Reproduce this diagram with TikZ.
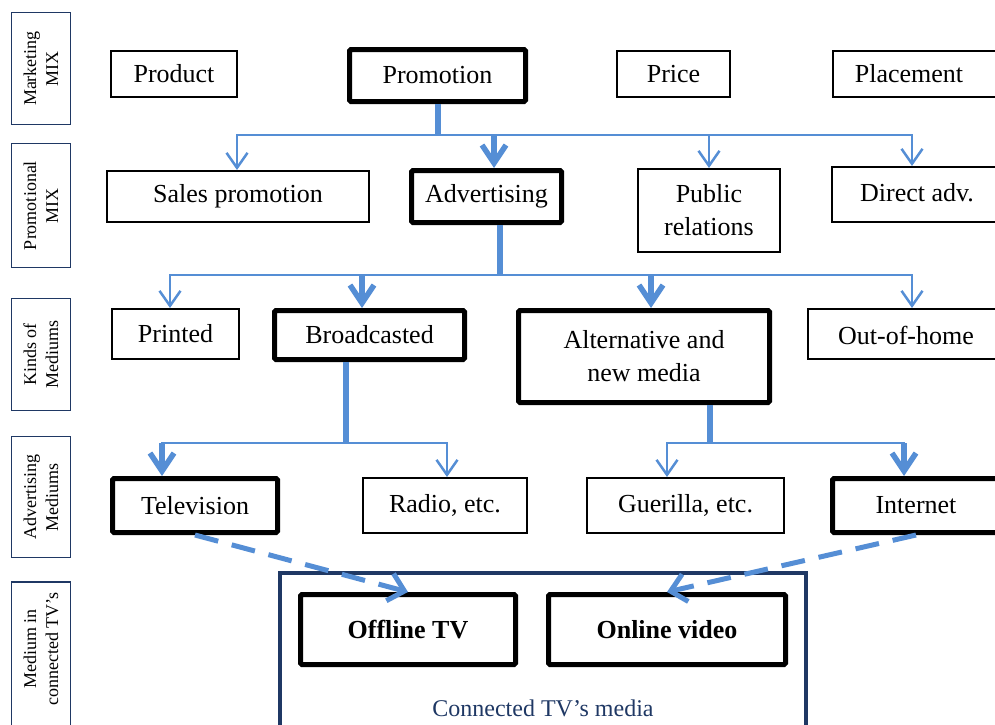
\documentclass[tikz,border=0pt]{standalone}
\usepackage{fontspec}
\setmainfont{Liberation Serif}
\usetikzlibrary{arrows.meta}
\definecolor{flowblue}{RGB}{85,142,213}
\definecolor{navy}{RGB}{31,56,100}

\begin{document}
\begin{tikzpicture}[x=1pt,y=-1pt,
  box/.style={draw=black, line width=2pt, fill=white, inner sep=0pt,
    font=\fontsize{26}{33}\selectfont, align=center},
  keybox/.style={box, line width=5pt, rounded corners=1.5pt},
  sidebox/.style={draw=navy, line width=1.3pt, inner sep=0pt},
  sidetext/.style={rotate=90, align=center, inner sep=0pt,
    font=\fontsize{18}{22}\selectfont},
  plain/.style={inner sep=0pt, font=\fontsize{26}{33}\selectfont, align=center},
  bus/.style={draw=flowblue, line width=2.5pt, line cap=rect},
  stem/.style={draw=flowblue, line width=6pt},
  thinarr/.style={draw=flowblue, line width=2.5pt,
    -{Straight Barb[length=15pt,width=21pt]}},
  thickarr/.style={draw=flowblue, line width=5.5pt,
    -{Straight Barb[length=18pt,width=24pt]}},
  dasharr/.style={draw=flowblue, line width=5pt, dash pattern=on 24pt off 14pt,
    -{Straight Barb[length=15pt,width=28pt]}},
]
\useasboundingbox (0,0) rectangle (995,724);
\clip (0,0) rectangle (995,724);

% ---- level captions on the left ----
\node[sidebox, minimum width=59pt, minimum height=112pt] (lvl1) at (41,68.5) {};
\node[sidetext] (lvl1t) at (lvl1) {Marketing\\MIX};
\node[sidebox, minimum width=59pt, minimum height=124pt] (lvl2) at (41,205.5) {};
\node[sidetext] (lvl2t) at (lvl2) {Promotional\\MIX};
\node[sidebox, minimum width=59pt, minimum height=112pt] (lvl3) at (41,354.5) {};
\node[sidetext] (lvl3t) at (lvl3) {Kinds of\\Mediums};
\node[sidebox, minimum width=59pt, minimum height=121pt] (lvl4) at (41,497) {};
\node[sidetext] (lvl4t) at (lvl4) {Advertising\\Mediums};
\node[sidebox, minimum width=59pt, minimum height=170pt] (lvl5) at (41,667) {};
\node[sidetext] (lvl5t) at (41,649) {Medium in\\connected TV's};

% ---- marketing mix ----
\node[box, minimum width=126pt, minimum height=46pt] (product) at (174,74) {Product};
\node[keybox, minimum width=176pt, minimum height=52pt] (promotion) at (437.5,75.5) {Promotion};
\node[box, minimum width=113pt, minimum height=46pt] (price) at (673.5,74) {Price};
\node[box, minimum width=186pt, minimum height=46pt] (placement) at (926,74) {};
\node[plain] (placementt) at (909,74) {Placement};

% ---- promotional mix ----
\node[box, minimum width=262pt, minimum height=51pt] (sales) at (238,196.5) {Sales promotion};
\node[keybox, minimum width=150pt, minimum height=52pt] (advertising) at (486.5,196.5) {Advertising};
\node[box, minimum width=142pt, minimum height=83pt] (public) at (709,210.5) {Public\\relations};
\node[box, minimum width=187pt, minimum height=55pt] (direct) at (925.5,194.5) {};
\node[plain] (directt) at (917,193) {Direct adv.};

% ---- kinds of mediums ----
\node[box, minimum width=127pt, minimum height=50pt] (printed) at (175.5,334) {Printed};
\node[keybox, minimum width=190pt, minimum height=49pt] (broadcasted) at (369.5,335) {Broadcasted};
\node[keybox, minimum width=251pt, minimum height=92pt] (alternative) at (644,356.5) {Alternative and\\new media};
\node[box, minimum width=211pt, minimum height=50pt] (outofhome) at (913.5,334) {};
\node[plain] (outofhomet) at (906,335) {Out-of-home};

% ---- advertising mediums ----
\node[keybox, minimum width=165pt, minimum height=54pt] (television) at (195,505.5) {Television};
\node[box, minimum width=164pt, minimum height=55pt] (radio) at (445,505.5) {Radio, etc.};
\node[box, minimum width=197pt, minimum height=55pt] (guerilla) at (685.5,505.5) {Guerilla, etc.};
\node[keybox, minimum width=185pt, minimum height=54pt] (internet) at (925,505.5) {};
\node[plain] (internett) at (916,505.5) {Internet};

% ---- connected TV media ----
\node[draw=navy, line width=4pt, minimum width=526pt, minimum height=174pt, inner sep=0pt] (ctv) at (543,660) {};
\node[inner sep=0pt, text=navy, font=\fontsize{24}{28}\selectfont] (ctvt) at (543,708) {Connected TV’s media};
\node[keybox, minimum width=215pt, minimum height=70pt, font=\fontsize{26}{33}\selectfont\bfseries] (offline) at (408,629.5) {Offline TV};
\node[keybox, minimum width=237pt, minimum height=70pt, font=\fontsize{26}{33}\selectfont\bfseries] (online) at (667,629.5) {Online video};

% ---- promotion -> promotional mix ----
\coordinate (j1) at (437.5,135);
\coordinate (a1s) at (237,135);
\coordinate (a1a) at (494,135);
\coordinate (a1p) at (709,135);
\coordinate (a1d) at (912,135);
\draw[stem] (promotion.south) -- (j1);
\draw[bus] (a1s) -- (a1d);
\draw[thinarr] (a1s) -- (a1s |- sales.north);
\draw[thickarr] (a1a) -- (a1a |- advertising.north);
\draw[thinarr] (a1p) -- (public.north);
\draw[thinarr] (a1d) -- (a1d |- direct.north);

% ---- advertising -> kinds of mediums ----
\coordinate (j2) at (500,275);
\coordinate (a2p) at (170,275);
\coordinate (a2b) at (362,275);
\coordinate (a2a) at (651,275);
\coordinate (a2o) at (912,275);
\draw[stem] (j2 |- advertising.south) -- (j2);
\draw[bus] (a2p) -- (a2o);
\draw[thinarr] (a2p) -- (a2p |- printed.north);
\draw[thickarr] (a2b) -- (a2b |- broadcasted.north);
\draw[thickarr] (a2a) -- (a2a |- alternative.north);
\draw[thinarr] (a2o) -- (a2o |- outofhome.north);

% ---- broadcasted -> television / radio ----
\coordinate (j3) at (346,443);
\coordinate (a3t) at (162,443);
\coordinate (a3r) at (447,443);
\draw[stem] (j3 |- broadcasted.south) -- (j3);
\draw[bus] (a3t) -- (a3r);
\draw[thickarr] (a3t) -- (a3t |- television.north);
\draw[thinarr] (a3r) -- (a3r |- radio.north);

% ---- alternative -> guerilla / internet ----
\coordinate (j4) at (710,443);
\coordinate (a4g) at (667,443);
\coordinate (a4i) at (904,443);
\draw[stem] (j4 |- alternative.south) -- (j4);
\draw[bus] (a4g) -- (a4i);
\draw[thinarr] (a4g) -- (a4g |- guerilla.north);
\draw[thickarr] (a4i) -- (a4i |- internet.north);

% ---- dashed links into connected TV ----
\coordinate (x916) at (916,0);
\draw[dasharr] (television.south) -- (offline.north);
\draw[dasharr] (x916 |- internet.south) -- (online.north);
\end{tikzpicture}
\end{document}
